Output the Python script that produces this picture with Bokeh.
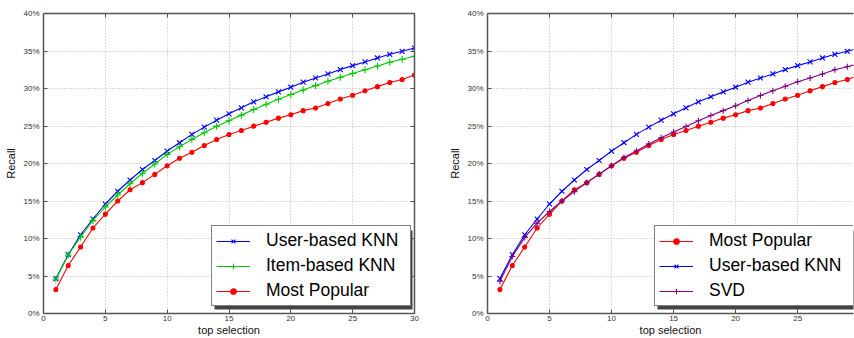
from bokeh.plotting import figure
from bokeh.layouts import row
from bokeh.models import (LinearAxis, FixedTicker, PrintfTickFormatter, Legend,
                          LegendItem, Range1d, BoxAnnotation, CustomJSTickFormatter)
from bokeh.embed import file_html
from bokeh.resources import INLINE

# ---------------- data (Recall in %) ----------------
top_n = list(range(1, 31))
user_knn = [4.65, 7.84, 10.5, 12.6, 14.6, 16.3, 17.8, 19.2, 20.4, 21.66,
            22.77, 23.88, 24.85, 25.78, 26.62, 27.42, 28.22, 28.9, 29.55, 30.17,
            30.84, 31.4, 31.94, 32.52, 33.05, 33.54, 34.07, 34.56, 34.96, 35.4]
item_knn = [4.6, 7.8, 10.2, 12.4, 14.2, 15.8, 17.3, 18.7, 19.93, 21.22,
            22.24, 23.22, 24.1, 24.98, 25.7, 26.45, 27.2, 27.9, 28.57, 29.2,
            29.8, 30.39, 30.96, 31.5, 32.0, 32.5, 33.0, 33.5, 33.9, 34.3]
most_popular = [3.19, 6.4, 8.86, 11.4, 13.25, 15.0, 16.5, 17.45, 18.55, 19.7,
                20.7, 21.5, 22.4, 23.2, 23.86, 24.4, 24.98, 25.5, 26.05, 26.5,
                27.05, 27.4, 28.0, 28.6, 29.1, 29.7, 30.25, 30.8, 31.2, 31.8]
svd = [4.3, 7.6, 10.15, 12.05, 13.6, 15.0, 16.25, 17.45, 18.6, 19.7,
       20.8, 21.66, 22.6, 23.43, 24.2, 24.94, 25.7, 26.4, 27.05, 27.7,
       28.4, 29.06, 29.7, 30.3, 30.9, 31.4, 31.94, 32.5, 32.9, 33.35]

x_ticks = [0, 5, 10, 15, 20, 25, 30]
y_ticks = [0, 5, 10, 15, 20, 25, 30, 35, 40]
x_label = "top selection"
y_label = "Recall"

FONT = "Liberation Sans"
AXIS_COLOR = "#555555"
BLUE, GREEN, RED, PURPLE = "#0000ff", "#00c800", "#ff0000", "#800080"
HEIGHT = 338

# legend geometry
PAD, SPACING, GW, GH, LH, LW, LSO = 4, 4, 34, 14, 21, 140, 16
LEG_W = 2 * PAD + GW + LSO + LW
LEG_H = 2 * PAD + 3 * LH + 2 * SPACING


def style_axis(ax, ticks, labels=True):
    ax.ticker = FixedTicker(ticks=ticks)
    ax.axis_line_color = AXIS_COLOR
    ax.axis_line_width = 1.5
    ax.major_tick_in = 4
    ax.major_tick_out = 0
    ax.major_tick_line_color = AXIS_COLOR
    ax.major_tick_line_width = 1
    ax.minor_tick_line_color = None
    ax.major_label_text_font = FONT
    ax.major_label_text_color = "#333333"
    ax.major_label_text_font_size = "8px"
    if labels:
        ax.major_label_standoff = 3
    else:
        ax.formatter = CustomJSTickFormatter(code="return ''")
        ax.major_label_standoff = 0
    ax.axis_label_text_font = FONT
    ax.axis_label_text_font_size = "11px"
    ax.axis_label_text_font_style = "normal"
    ax.axis_label_text_color = "#111111"


def make_fig(width, x_end, border_left, border_right, right_axis):
    p = figure(width=width, height=HEIGHT,
               x_range=Range1d(0, x_end), y_range=Range1d(0, 40),
               output_backend="svg", toolbar_location=None,
               min_border_left=border_left, min_border_right=border_right,
               min_border_top=13, min_border_bottom=24,
               x_axis_label=x_label, y_axis_label=y_label)
    p.outline_line_color = None
    p.background_fill_color = "white"
    p.border_fill_color = "white"
    style_axis(p.xaxis[0], x_ticks)
    style_axis(p.yaxis[0], y_ticks)
    p.xaxis[0].major_label_standoff = 2
    p.xaxis[0].axis_label_standoff = 0
    p.yaxis[0].major_label_standoff = 4
    p.yaxis[0].axis_label_standoff = 3
    p.yaxis[0].formatter = PrintfTickFormatter(format="%d%%")
    top = LinearAxis()
    style_axis(top, x_ticks, labels=False)
    p.add_layout(top, "above")
    if right_axis:
        rt = LinearAxis()
        style_axis(rt, y_ticks, labels=False)
        p.add_layout(rt, "right")
    for g, t in ((p.xgrid, x_ticks), (p.ygrid, y_ticks)):
        g.ticker = FixedTicker(ticks=t)
        g.grid_line_color = "#b8b8b8"
        g.grid_line_dash = "1 2"
        g.grid_line_width = 1
    return p


def series(p, y, color, marker, size):
    ln = p.line(top_n, y, line_color=color, line_width=1.1)
    sc = p.scatter(top_n, y, marker=marker, size=size, line_color=color,
                   fill_color=color, line_width=1.1)
    return [ln, sc]


def add_legend(p, entries, loc):
    shadow = BoxAnnotation(left=loc[0] + 3, right=loc[0] + LEG_W + 3,
                           bottom=loc[1] - 3, top=loc[1] + LEG_H - 3,
                           left_units="screen", right_units="screen",
                           bottom_units="screen", top_units="screen",
                           fill_color="#444444", fill_alpha=1,
                           line_color=None, level="annotation")
    main = Legend(items=[LegendItem(label=l, renderers=r) for l, r in entries],
                  location=loc, background_fill_color="white",
                  background_fill_alpha=1, border_line_color="black",
                  border_line_width=1.5, label_text_color="black",
                  padding=PAD, spacing=SPACING, glyph_width=GW, glyph_height=GH,
                  label_height=LH, label_width=LW, label_standoff=LSO,
                  margin=0, label_text_font=FONT, label_text_font_size="17.5px")
    p.add_layout(shadow, "center")
    p.add_layout(main, "center")


# ---------------- left chart ----------------
p1 = make_fig(446, 30, 43, 32, True)
r_user = series(p1, user_knn, BLUE, "x", 7)
r_item = series(p1, item_knn, GREEN, "cross", 7)
r_pop = series(p1, most_popular, RED, "circle", 4)
add_legend(p1, [("User-based KNN", r_user), ("Item-based KNN", r_item),
                ("Most Popular", r_pop)], (168, 7))

# ---------------- right chart ----------------
p2 = make_fig(408, 29.5, 41, 1, False)
q_user = series(p2, user_knn, BLUE, "x", 7)
q_pop = series(p2, most_popular, RED, "circle", 4)
q_svd = series(p2, svd, PURPLE, "cross", 6)
add_legend(p2, [("Most Popular", q_pop), ("User-based KNN", q_user),
                ("SVD", q_svd)], (167, 7))

layout = row(p1, p2)
open("out.html", "w").write(file_html(layout, INLINE))
